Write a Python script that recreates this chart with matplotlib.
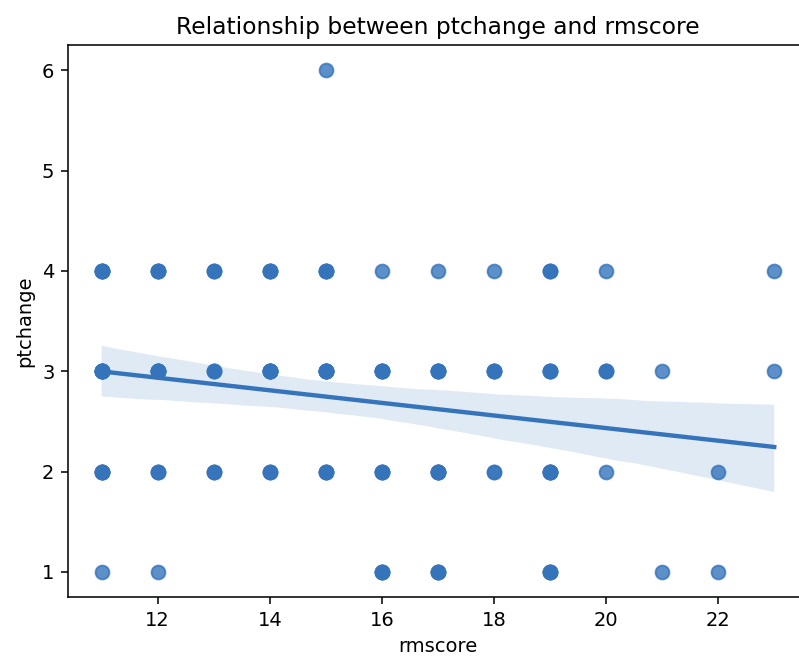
import numpy as np
import pandas as pd
import matplotlib
matplotlib.use("Agg")
import matplotlib.pyplot as plt
import seaborn as sns

# (rmscore, ptchange) pairs and how many rows sit on each pair
rmscore = [11, 11, 11, 11,
           12, 12, 12, 12,
           13, 13, 13,
           14, 14, 14,
           15, 15, 15, 15,
           16, 16, 16, 16,
           17, 17, 17, 17,
           18, 18, 18,
           19, 19, 19, 19,
           20, 20, 20,
           21, 21,
           22, 22,
           23, 23]
ptchange = [4, 3, 2, 1,
            4, 3, 2, 1,
            4, 3, 2,
            4, 3, 2,
            6, 4, 3, 2,
            4, 3, 2, 1,
            4, 3, 2, 1,
            4, 3, 2,
            4, 3, 2, 1,
            4, 3, 2,
            3, 1,
            2, 1,
            4, 3]
counts = [5, 7, 5, 1,
          4, 6, 3, 1,
          3, 3, 3,
          4, 7, 3,
          1, 4, 7, 4,
          1, 5, 4, 4,
          1, 5, 5, 4,
          1, 4, 2,
          3, 4, 5, 4,
          1, 3, 1,
          1, 1,
          1, 1,
          1, 1]

df = pd.DataFrame({
    "rmscore": np.repeat(rmscore, counts),
    "ptchange": np.repeat(ptchange, counts),
})

fig = plt.figure(figsize=(799 / 140, 660 / 140), dpi=140)
# the right edge of the axes runs past the canvas, as in the screenshot
ax = fig.add_axes([0.0851, 0.0955, 0.926, 0.836])

sns.regplot(data=df, x="rmscore", y="ptchange", ax=ax, color="#3574bb",
            scatter_kws={"s": 50}, seed=0)

ax.set_xlim(10.4, 23.6)
ax.spines["right"].set_visible(False)
ax.set_title("Relationship between ptchange and rmscore")
ax.set_xlabel("rmscore")
ax.set_ylabel("ptchange")

fig.savefig("out.png", dpi=140)
